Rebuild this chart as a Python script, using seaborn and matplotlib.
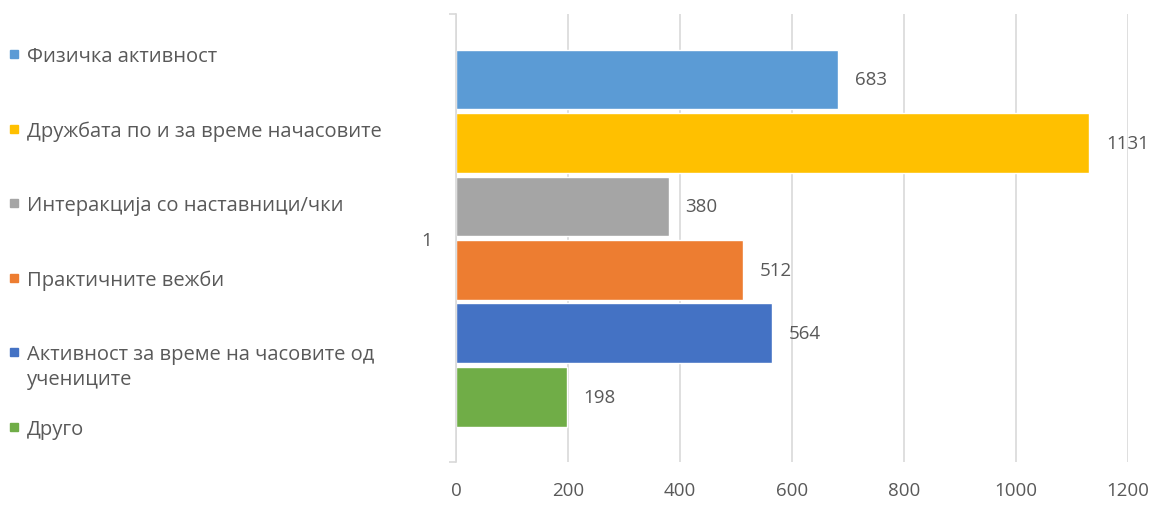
import pandas as pd
import matplotlib.pyplot as plt
import seaborn as sns
from matplotlib.patches import Rectangle

# Data
series = ['Физичка активност',
          'Дружбата по и за време начасовите',
          'Интеракција со наставници/чки',
          'Практичните вежби',
          'Активност за време на часовите од\nучениците',
          'Друго']
values = [683, 1131, 380, 512, 564, 198]
category = ['1'] * len(series)
colors = ['#5B9BD5', '#FFC000', '#A5A5A5', '#ED7D31', '#4472C4', '#70AD47']

df = pd.DataFrame({'cat': category, 'series': series, 'value': values})

sns.set_theme(style="white")
plt.rcParams['font.family'] = ['Open Sans', 'DejaVu Sans']
text_col = '#595959'
grid_col = '#D9D9D9'

W, H = 1163, 506
fig = plt.figure(figsize=(W / 100, H / 100), dpi=100)
ax = fig.add_axes([0.392, 0.085, 0.578, 0.885])

sns.barplot(data=df, y='cat', x='value', hue='series', orient='h',
            palette=colors, width=0.85, gap=0.06, saturation=1,
            legend=False, ax=ax)

ax.set_xlim(0, 1200)
ax.set_ylim(0.5, -0.5)
ax.set_xticks(range(0, 1201, 200))
ax.set_xlabel('')
ax.set_ylabel('')
ax.set_axisbelow(True)
ax.grid(axis='x', color=grid_col, linewidth=1.2)
ax.grid(axis='y', visible=False)

for s in ['top', 'right', 'bottom']:
    ax.spines[s].set_visible(False)
ax.spines['left'].set_color(grid_col)
ax.spines['left'].set_linewidth(1.2)

ax.set_yticks([0])
ax.set_yticklabels(['1'])
ax.set_yticks([-0.5, 0.5], minor=True)
ax.tick_params(axis='y', which='major', length=0, pad=17, labelsize=13.5, labelcolor=text_col)
ax.tick_params(axis='y', which='minor', length=5, width=1.2, color=grid_col, left=True)
ax.tick_params(axis='x', length=0, pad=14, labelsize=13.5, labelcolor=text_col)

for cont in ax.containers:
    ax.bar_label(cont, padding=12, fontsize=13.5, color=text_col)

# legend on the left, Excel style: marker aligned with the first text line
top_px, step_px, line_px = 55, 74.6, 25
for i, (lab, col) in enumerate(zip(series, colors)):
    y = top_px + i * step_px
    fig.patches.append(Rectangle((10 / W, 1 - (y + 4) / H), 8 / W, 8 / H,
                                 color=col, transform=fig.transFigure))
    for j, line in enumerate(lab.split('\n')):
        fig.text(27 / W, 1 - (y + 2 + j * line_px) / H, line, fontsize=14.5,
                 color=text_col, va='center', ha='left')

fig.savefig('out.png', dpi=100)
